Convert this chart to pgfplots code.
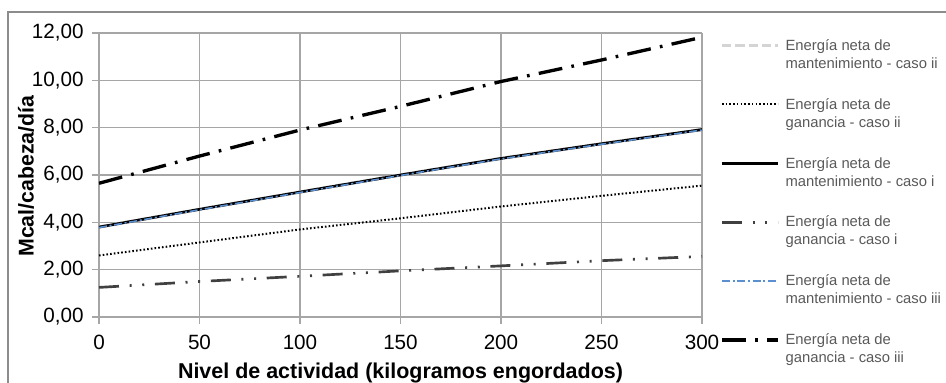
\documentclass[border=0pt]{standalone}
\usepackage{fontspec}
\setmainfont{Liberation Sans}
\usepackage{pgfplots}
\pgfplotsset{compat=1.18}
\definecolor{gridc}{HTML}{A6A6A6}
\definecolor{framec}{HTML}{8C8C8C}
\definecolor{legtext}{HTML}{595959}
\definecolor{blueline}{HTML}{5B8FD0}
\definecolor{lightg}{HTML}{D4D4D4}
\definecolor{darkg}{HTML}{404040}
\begin{document}
\begin{tikzpicture}
\useasboundingbox (-74.25pt,-48.75pt) rectangle (635.25pt,237.75pt);
\draw[framec, line width=1.5pt] (-68.25pt,-60pt) -- (-68.25pt,228.75pt) -- (640pt,228.75pt);
\begin{axis}[
  scale only axis, width=452.25pt, height=213pt,
  xmin=0, xmax=300, ymin=0, ymax=12,
  xtick={0,50,...,300}, ytick={0,2,...,12},
  axis lines*=left,
  axis line style={gridc, line width=1.2pt},
  grid=major, major grid style={gridc, line width=1.2pt},
  tick align=outside, major tick length=5pt,
  tick style={gridc, line width=1.2pt},
  ticklabel style={font=\fontsize{15.5}{18}\selectfont},
  /pgf/number format/assume math mode=true,
  yticklabel style={xshift=-3pt, /pgf/number format/.cd, fixed, fixed zerofill, precision=2, use comma},
  xticklabel style={yshift=-5pt},
  xlabel={Nivel de actividad (kilogramos engordados)},
  ylabel={Mcal/cabeza/día},
  x label style={font=\bfseries\fontsize{16.1}{19}\selectfont, at={(axis description cs:0.5,0)}, anchor=base, yshift=-45.75pt},
  y label style={font=\bfseries\fontsize{16}{19}\selectfont, at={(axis description cs:0,0.496)}, anchor=center, yshift=54.75pt},
  legend cell align=left,
  legend style={at={(axis description cs:1.0232,0.988)}, anchor=north west, draw=none, fill=none,
    font=\fontsize{11.1}{13.5}\selectfont\color{legtext}, row sep=21pt, column sep=4.5pt,
    cells={align=left}, nodes={inner sep=0pt}},
  legend image code/.code={\draw[#1] (0pt,6.9pt) -- (42pt,6.9pt);},
]
\addplot[lightg, line width=2.5pt, dash pattern=on 7pt off 3pt] coordinates {(0,3.8) (50,4.55) (100,5.28) (150,6.0) (200,6.7) (250,7.32) (300,7.92)};
\addlegendentry{Energía neta de\\mantenimiento - caso ii}
\addplot[black, line width=1.5pt, dash pattern=on 1.2pt off 1.6pt] coordinates {(0,2.6) (50,3.15) (100,3.7) (150,4.17) (200,4.67) (250,5.12) (300,5.55)};
\addlegendentry{Energía neta de\\ganancia - caso ii}
\addplot[black, line width=2pt] coordinates {(0,3.8) (50,4.55) (100,5.28) (150,6.0) (200,6.7) (250,7.32) (300,7.92)};
\addlegendentry{Energía neta de\\mantenimiento - caso i}
\addplot[darkg, line width=2pt, dash pattern=on 15pt off 8pt on 1.5pt off 8pt on 1.5pt off 8pt] coordinates {(0,1.25) (50,1.5) (100,1.72) (150,1.95) (200,2.16) (250,2.38) (300,2.56)};
\addlegendentry{Energía neta de\\ganancia - caso i}
\addplot[blueline, line width=1.2pt, dash pattern=on 6pt off 2pt on 1.5pt off 2pt] coordinates {(0,3.78) (50,4.53) (100,5.26) (150,5.98) (200,6.68) (250,7.3) (300,7.9)};
\addlegendentry{Energía neta de\\mantenimiento - caso iii}
\addplot[black, line width=2.5pt, dash pattern=on 18pt off 7pt on 2pt off 7pt] coordinates {(0,5.65) (50,6.8) (100,7.9) (150,8.9) (200,9.95) (250,10.86) (300,11.82)};
\addlegendentry{Energía neta de\\ganancia - caso iii}
\end{axis}
\end{tikzpicture}
\end{document}
